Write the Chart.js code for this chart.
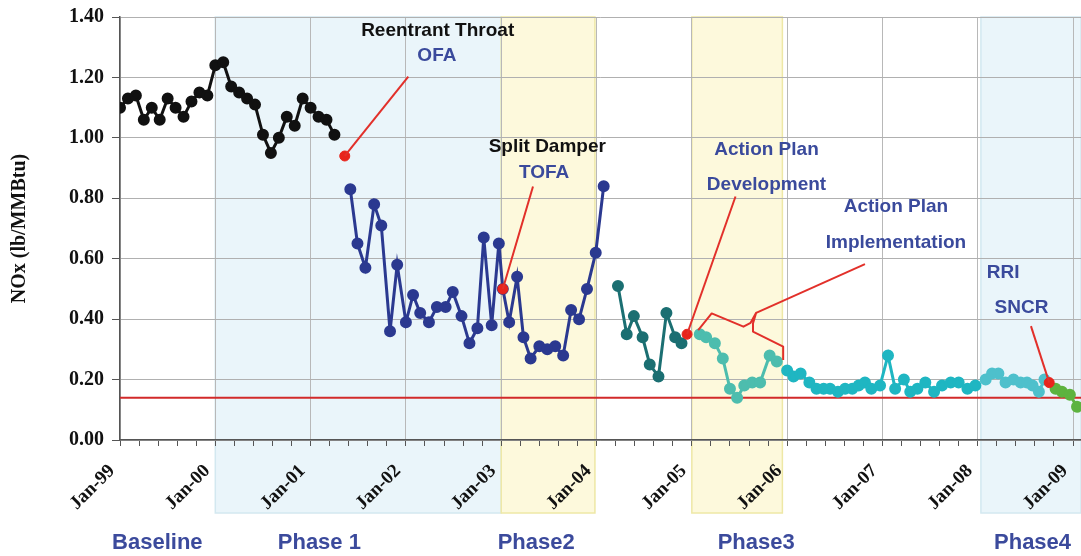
<!DOCTYPE html>
<html>
<head>
<meta charset="utf-8">
<script src="https://cdn.jsdelivr.net/npm/chart.js@4.4.1/dist/chart.umd.min.js"></script>
<style>
  html, body { margin: 0; padding: 0; background: #fff; }
  #wrap { width: 1081px; height: 556px; }
</style>
</head>
<body>
<div id="wrap"><canvas id="noxChart" width="1081" height="556"></canvas></div>
<script>
// x values are months since Jan-99, y values are NOx in lb/MMBtu
const tickLabels = ['Jan-99', 'Jan-00', 'Jan-01', 'Jan-02', 'Jan-03', 'Jan-04', 'Jan-05', 'Jan-06', 'Jan-07', 'Jan-08', 'Jan-09'];

const baselineMonths = [0, 1, 2, 3, 4, 5, 6, 7, 8, 9, 10, 11, 12, 13, 14, 15, 16, 17, 18, 19, 20, 21, 22, 23, 24, 25, 26, 27];
const baselineValues = [1.10, 1.13, 1.14, 1.06, 1.10, 1.06, 1.13, 1.10, 1.07, 1.12, 1.15, 1.14, 1.24, 1.25, 1.17, 1.15, 1.13, 1.11, 1.01, 0.95, 1.00, 1.07, 1.04, 1.13, 1.10, 1.07, 1.06, 1.01];

const ofaMonths = [29.0, 29.9, 30.9, 32.0, 32.9, 34.0, 34.9, 36.0, 36.9, 37.8, 38.9, 39.9, 41.0, 41.9, 43.0, 44.0, 45.0, 45.8, 46.8, 47.7, 48.2, 49.0, 50.0, 50.8, 51.7, 52.8, 53.8, 54.8, 55.8, 56.8, 57.8, 58.8, 59.9, 60.9];
const ofaValues = [0.83, 0.65, 0.57, 0.78, 0.71, 0.36, 0.58, 0.39, 0.48, 0.42, 0.39, 0.44, 0.44, 0.49, 0.41, 0.32, 0.37, 0.67, 0.38, 0.65, 0.50, 0.39, 0.54, 0.34, 0.27, 0.31, 0.30, 0.31, 0.28, 0.43, 0.40, 0.50, 0.62, 0.84];

const y2004Months = [62.7, 63.8, 64.7, 65.8, 66.7, 67.8, 68.8, 69.9, 70.7];
const y2004Values = [0.51, 0.35, 0.41, 0.34, 0.25, 0.21, 0.42, 0.34, 0.32];

const devMonths = [73.0, 73.8, 74.9, 75.9, 76.8, 77.7, 78.6, 79.6, 80.6, 81.8, 82.7];
const devValues = [0.35, 0.34, 0.32, 0.27, 0.17, 0.14, 0.18, 0.19, 0.19, 0.28, 0.26];

const implMonths = [84.0, 84.8, 85.7, 86.8, 87.7, 88.6, 89.4, 90.4, 91.3, 92.2, 93.0, 93.8, 94.6, 95.7, 96.7, 97.6, 98.7, 99.5, 100.4, 101.4, 102.5, 103.5, 104.6, 105.6, 106.7, 107.7];
const implValues = [0.23, 0.21, 0.22, 0.19, 0.17, 0.17, 0.17, 0.16, 0.17, 0.17, 0.18, 0.19, 0.17, 0.18, 0.28, 0.17, 0.20, 0.16, 0.17, 0.19, 0.16, 0.18, 0.19, 0.19, 0.17, 0.18];

const phase4Months = [109.0, 109.8, 110.6, 111.5, 112.5, 113.4, 114.2, 114.9, 115.7, 116.4];
const phase4Values = [0.20, 0.22, 0.22, 0.19, 0.20, 0.19, 0.19, 0.18, 0.16, 0.20];

const sncrMonths = [117.8, 118.6, 119.6, 120.5];
const sncrValues = [0.17, 0.16, 0.15, 0.11];

const eventMonths = [28.3, 48.2, 71.4, 117.0];
const eventValues = [0.94, 0.50, 0.35, 0.19];

const targetValue = 0.14;

// shaded phase periods (months) and their labels under the axis
const phases = [
    { from: 12, to: 48, fill: '#eaf5fa', edge: '#d3e8f0' },
    { from: 48, to: 59.8, fill: '#fdf9dc', edge: '#eee8a6' },
    { from: 72, to: 83.4, fill: '#fdf9dc', edge: '#eee8a6' },
    { from: 108.4, to: 121, fill: '#eaf5fa', edge: '#d3e8f0' }
];
const phaseLabels = [
    { text: 'Baseline', at: 4.7 },
    { text: 'Phase 1', at: 25.1 },
    { text: 'Phase2', at: 52.4 },
    { text: 'Phase3', at: 80.1 },
    { text: 'Phase4', at: 114.9 }
];

// callouts, positioned in data units
const notes = [
    { text: 'Reentrant Throat', x: 40.0, y: 1.355, color: '#111' },
    { text: 'OFA', x: 39.9, y: 1.272, color: '#3a4a9c' },
    { text: 'Split Damper', x: 53.8, y: 0.971, color: '#111' },
    { text: 'TOFA', x: 53.4, y: 0.884, color: '#3a4a9c' },
    { text: 'Action Plan', x: 81.4, y: 0.960, color: '#3a4a9c' },
    { text: 'Development', x: 81.4, y: 0.844, color: '#3a4a9c' },
    { text: 'Action Plan', x: 97.7, y: 0.772, color: '#3a4a9c' },
    { text: 'Implementation', x: 97.7, y: 0.652, color: '#3a4a9c' },
    { text: 'RRI', x: 111.2, y: 0.553, color: '#3a4a9c' },
    { text: 'SNCR', x: 113.5, y: 0.437, color: '#3a4a9c' }
];
const pointers = [
    [[28.3, 0.94], [36.3, 1.203]],
    [[48.2, 0.50], [52.0, 0.839]],
    [[71.4, 0.35], [77.5, 0.806]],
    [[72.8, 0.364], [74.5, 0.419], [78.5, 0.375], [79.4, 0.388], [80.1, 0.421], [79.7, 0.386], [79.7, 0.359], [83.5, 0.309], [83.5, 0.265]],
    [[80.1, 0.421], [93.8, 0.582]],
    [[117.0, 0.19], [114.7, 0.377]]
];

const toPoints = (xs, ys) => xs.map((x, i) => ({ x: x, y: ys[i] }));
const isYear = v => Math.abs(v / 12 - Math.round(v / 12)) < 1e-6;

function series(label, xs, ys, color) {
    return {
        label: label,
        data: toPoints(xs, ys),
        borderColor: color,
        backgroundColor: color,
        pointBackgroundColor: color,
        pointBorderColor: color,
        borderWidth: 3,
        pointRadius: 4.5,
        tension: 0
    };
}

const phasePlugin = {
    id: 'phases',
    beforeDraw(chart) {
        const { ctx, chartArea, scales } = chart;
        const bottom = chartArea.bottom + 73;
        ctx.save();
        phases.forEach(p => {
            const x0 = scales.x.getPixelForValue(p.from);
            const x1 = Math.min(scales.x.getPixelForValue(p.to), chart.width);
            ctx.fillStyle = p.fill;
            ctx.fillRect(x0, chartArea.top, x1 - x0, bottom - chartArea.top);
            ctx.strokeStyle = p.edge;
            ctx.lineWidth = 1.5;
            ctx.strokeRect(x0, chartArea.top, x1 - x0, bottom - chartArea.top);
        });
        ctx.restore();
    },
    afterDraw(chart) {
        const { ctx, scales } = chart;
        ctx.save();
        ctx.font = 'bold 22px "Liberation Sans", Arial, sans-serif';
        ctx.fillStyle = '#3b4a9c';
        ctx.textAlign = 'center';
        ctx.textBaseline = 'middle';
        phaseLabels.forEach(p => ctx.fillText(p.text, scales.x.getPixelForValue(p.at), 543));
        ctx.restore();
    }
};

const notePlugin = {
    id: 'notes',
    afterDatasetsDraw(chart) {
        const { ctx, scales } = chart;
        const px = v => scales.x.getPixelForValue(v);
        const py = v => scales.y.getPixelForValue(v);
        ctx.save();
        ctx.strokeStyle = '#e2302a';
        ctx.lineWidth = 2;
        ctx.lineJoin = 'round';
        pointers.forEach(line => {
            ctx.beginPath();
            line.forEach((p, i) => i ? ctx.lineTo(px(p[0]), py(p[1])) : ctx.moveTo(px(p[0]), py(p[1])));
            ctx.stroke();
        });
        ctx.font = 'bold 19px "Liberation Sans", Arial, sans-serif';
        ctx.textAlign = 'center';
        ctx.textBaseline = 'middle';
        notes.forEach(n => {
            ctx.fillStyle = n.color;
            ctx.fillText(n.text, px(n.x), py(n.y));
        });
        ctx.restore();
    }
};

const serif = '"Liberation Serif", "Times New Roman", serif';

const config = {
    type: 'line',
    data: {
        datasets: [
            series('Baseline', baselineMonths, baselineValues, '#111111'),
            series('OFA / TOFA', ofaMonths, ofaValues, '#2b3990'),
            series('2004', y2004Months, y2004Values, '#1b6f72'),
            series('Action Plan Development', devMonths, devValues, '#4dbdae'),
            series('Action Plan Implementation', implMonths, implValues, '#1fb6c2'),
            series('Phase4', phase4Months, phase4Values, '#4ec0cc'),
            series('SNCR', sncrMonths, sncrValues, '#5db33f'),
            {
                label: 'Target',
                data: [{ x: 0, y: targetValue }, { x: 121, y: targetValue }],
                borderColor: '#d22a2a',
                borderWidth: 2,
                pointRadius: 0,
                order: 5
            },
            {
                label: 'Events',
                data: toPoints(eventMonths, eventValues),
                showLine: false,
                pointRadius: 5,
                pointBackgroundColor: '#e8241c',
                pointBorderColor: '#e8241c',
                order: -1
            }
        ]
    },
    options: {
        responsive: false,
        animation: false,
        layout: { autoPadding: false, padding: { top: 17, right: 0, bottom: 0, left: 0 } },
        plugins: {
            legend: { display: false },
            tooltip: { enabled: false }
        },
        scales: {
            x: {
                type: 'linear',
                min: 0,
                max: 121,
                afterFit(scale) {
                    scale.height = 116;
                    scale.paddingLeft = 0;
                    scale.paddingRight = 0;
                },
                border: { color: '#555', width: 1.5 },
                grid: {
                    color: ctx => (ctx.tick && isYear(ctx.tick.value)) ? '#b8b8b8' : 'rgba(0,0,0,0)',
                    tickColor: '#555',
                    tickLength: 6
                },
                ticks: {
                    stepSize: 2.4,
                    includeBounds: false,
                    autoSkip: false,
                    minRotation: 45,
                    maxRotation: 45,
                    padding: 14,
                    labelOffset: -8,
                    color: '#111',
                    font: { family: serif, size: 19, weight: 'bold' },
                    callback: v => isYear(v) ? tickLabels[Math.round(v / 12)] : ''
                }
            },
            y: {
                min: 0,
                max: 1.4,
                afterFit(scale) {
                    scale.width = 120;
                    scale.paddingTop = 0;
                    scale.paddingBottom = 0;
                },
                border: { color: '#555', width: 1.5 },
                grid: { color: '#b0b0b0', tickColor: '#555', tickLength: 8 },
                ticks: {
                    stepSize: 0.2,
                    padding: 8,
                    color: '#111',
                    font: { family: serif, size: 20, weight: 'bold' },
                    callback: v => v.toFixed(2)
                },
                title: {
                    display: true,
                    text: 'NOx (lb/MMBtu)',
                    color: '#111',
                    padding: { top: 8, bottom: 0 },
                    font: { family: serif, size: 20, weight: 'bold' }
                }
            }
        }
    },
    plugins: [phasePlugin, notePlugin]
};

const noxChart = new Chart(document.getElementById('noxChart').getContext('2d'), config);
</script>
</body>
</html>
